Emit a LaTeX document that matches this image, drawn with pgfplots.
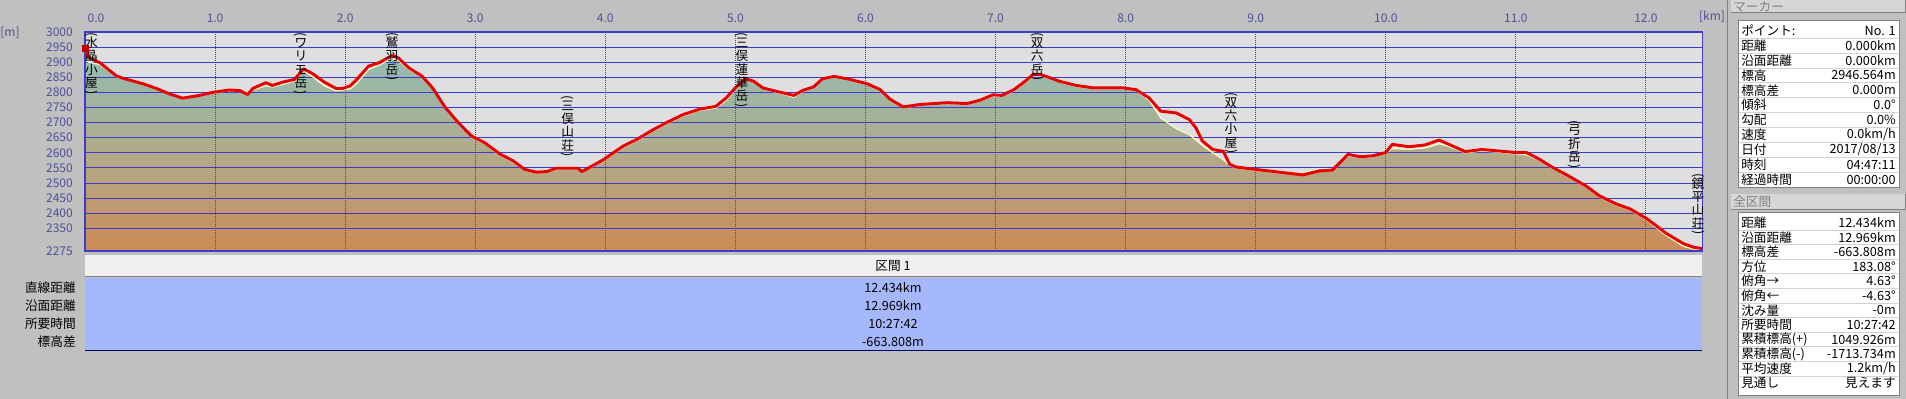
\documentclass[border=0pt]{standalone}
\usepackage{fontspec}
\setmainfont{Noto Sans CJK JP}
\usepackage{graphicx}
\usepackage{pgfplots}
\usepackage{pgfplotstable}
\pgfplotsset{compat=1.18}

\definecolor{bggray}{HTML}{C0C0C0}
\definecolor{plotbg}{HTML}{DFDFE1}
\definecolor{gridblue}{HTML}{3C3CC8}
\definecolor{vgrid}{HTML}{484878}
\definecolor{ticktxt}{HTML}{50509A}
\definecolor{stripbg}{HTML}{F0F0F0}
\definecolor{panelblue}{HTML}{A6B8FC}
\definecolor{trackred}{HTML}{E80000}
\definecolor{filltop}{HTML}{94BCB0}
\definecolor{fillmid}{HTML}{B2AA8A}
\definecolor{fillbot}{HTML}{CC8A56}
\definecolor{hdrgray}{HTML}{D6D6D6}
\definecolor{hdrtxt}{HTML}{808080}

\pgfplotstableread{
x y
0.000 2946.6
0.010 2930
0.030 2915
0.115 2898
0.24 2855
0.29 2847
0.45 2828
0.55 2813
0.65 2795
0.75 2781
0.88 2790
0.98 2800
1.11 2808
1.19 2806
1.25 2793
1.29 2813
1.39 2832
1.44 2823
1.52 2834
1.61 2843
1.68 2878
1.75 2862
1.84 2834
1.93 2813
1.98 2813
2.04 2822
2.09 2843
2.18 2887
2.26 2898
2.36 2922
2.41 2914
2.49 2881
2.59 2854
2.67 2816
2.77 2750
2.87 2700
2.97 2656
3.07 2634
3.19 2596
3.29 2574
3.38 2545
3.47 2536
3.55 2538
3.62 2549
3.73 2549
3.79 2549
3.82 2538
3.88 2552
3.98 2576
4.14 2623
4.24 2644
4.37 2677
4.47 2700
4.60 2727
4.73 2745
4.85 2754
4.93 2782
5.01 2820
5.08 2845
5.14 2837
5.21 2815
5.34 2801
5.45 2790
5.52 2807
5.60 2818
5.67 2845
5.76 2853
5.88 2843
6.01 2829
6.11 2810
6.19 2777
6.29 2752
6.42 2760
6.63 2766
6.78 2763
6.88 2774
6.98 2792
7.05 2790
7.14 2809
7.21 2831
7.29 2860
7.34 2860
7.42 2848
7.49 2837
7.62 2823
7.75 2815
7.88 2815
7.98 2815
8.08 2809
8.18 2782
8.27 2738
8.39 2732
8.49 2710
8.54 2683
8.59 2639
8.67 2611
8.75 2605
8.80 2562
8.85 2553
8.98 2546
9.16 2537
9.36 2527
9.49 2540
9.59 2543
9.71 2595
9.80 2587
9.90 2590
10.00 2601
10.05 2628
10.18 2620
10.30 2626
10.41 2642
10.48 2629
10.61 2604
10.74 2611
10.87 2606
11.00 2601
11.08 2601
11.18 2579
11.28 2552
11.39 2527
11.54 2490
11.64 2458
11.77 2431
11.88 2414
12.01 2381
12.16 2332
12.29 2299
12.37 2287
12.434 2283
}\track

\pgfplotstableread{
x y
0.000 2905
0.030 2900
0.115 2892
0.24 2852
0.29 2845
0.45 2826
0.55 2811
0.65 2793
0.75 2779
0.88 2788
0.98 2798
1.11 2805
1.19 2803
1.25 2800
1.29 2808
1.39 2822
1.44 2818
1.52 2826
1.61 2838
1.68 2872
1.75 2852
1.84 2822
1.93 2805
1.98 2808
2.04 2812
2.09 2830
2.18 2876
2.26 2890
2.36 2912
2.41 2906
2.49 2876
2.59 2850
2.67 2812
2.77 2746
2.87 2697
2.97 2652
3.07 2630
3.19 2592
3.29 2570
3.38 2542
3.47 2534
3.55 2536
3.62 2546
3.73 2546
3.79 2546
3.82 2540
3.88 2549
3.98 2572
4.14 2619
4.24 2640
4.37 2673
4.47 2696
4.60 2723
4.73 2741
4.85 2748
4.93 2774
5.01 2815
5.08 2842
5.14 2834
5.21 2812
5.34 2797
5.45 2784
5.52 2803
5.60 2815
5.67 2842
5.76 2850
5.88 2840
6.01 2826
6.11 2806
6.19 2773
6.29 2749
6.42 2757
6.63 2763
6.78 2760
6.88 2771
6.98 2788
7.05 2787
7.14 2805
7.21 2827
7.29 2855
7.34 2855
7.42 2845
7.49 2834
7.62 2820
7.75 2812
7.88 2812
7.98 2812
8.08 2806
8.18 2775
8.27 2715
8.39 2680
8.49 2660
8.59 2625
8.67 2600
8.75 2578
8.80 2558
8.85 2550
8.98 2543
9.16 2534
9.36 2533
9.49 2548
9.59 2545
9.71 2590
9.80 2584
9.90 2587
10.00 2598
10.05 2614
10.18 2612
10.30 2616
10.41 2630
10.48 2622
10.61 2600
10.74 2606
10.87 2602
11.00 2597
11.08 2594
11.18 2575
11.28 2548
11.39 2523
11.54 2486
11.64 2454
11.77 2427
11.88 2410
12.01 2376
12.16 2325
12.29 2290
12.37 2281
12.434 2280
}\terrain

\newcommand{\lp}{\rotatebox[origin=c]{-90}{(}}
\newcommand{\rp}{\rotatebox[origin=c]{-90}{)}}
\newcommand{\vfont}{\fontsize{9.5pt}{10pt}\selectfont}
\newcommand{\tfont}{\fontsize{9.5pt}{11pt}\selectfont}
\newcommand{\kfont}{\fontsize{9pt}{10pt}\selectfont}
\newcommand{\trow}[3]{%
  \node[anchor=west,inner sep=0pt,font=\tfont] at (1741,#1) {#2};
  \node[anchor=east,inner sep=0pt,font=\tfont] at (1896,#1) {#3};}
\tikzset{vlab/.style={anchor=north, align=center, inner sep=0pt, font=\vfont}}

\begin{document}
\begin{tikzpicture}
\useasboundingbox (0,0) rectangle (1429.5pt,299.25pt);
\fill[bggray] (0,0) rectangle (1429.5pt,299.25pt);
\begin{axis}[
  at={(63.75pt,111pt)}, anchor=south west,
  scale only axis, width=1213.05pt, height=164.25pt,
  xmin=0, xmax=12.434, ymin=2275, ymax=3000,
  clip=false,
  axis background/.style={fill=plotbg},
  axis line style={draw=gridblue, line width=1pt},
  xtick={0,1,2,3,4,5,6,7,8,9,10,11,12},
  xticklabels={{\makebox[0pt][l]{\hspace{2pt}0.0}},1.0,2.0,3.0,4.0,5.0,6.0,7.0,8.0,9.0,10.0,11.0,12.0},
  ytick={2275,2350,2400,2450,2500,2550,2600,2650,2700,2750,2800,2850,2900,2950,3000},
  yticklabels={2275,2350,2400,2450,2500,2550,2600,2650,2700,2750,2800,2850,2900,2950,3000},
  xticklabel pos=upper,
  major tick length=0pt,
  tick style={draw=none},
  xticklabel style={anchor=south, inner sep=0pt, yshift=7pt, font=\kfont, text=ticktxt},
  yticklabel style={anchor=east, inner sep=0pt, xshift=-9pt, font=\kfont, text=ticktxt},
]
\addplot[draw=none, top color=filltop, bottom color=fillbot, middle color=fillmid] table[x=x,y=y]{\terrain} \closedcycle;
\pgfplotsinvokeforeach{2350,2400,2450,2500,2550,2600,2650,2700,2750,2800,2850,2900,2950}{
  \draw[gridblue, line width=0.75pt] (axis cs:0,#1) -- (axis cs:12.434,#1);
}
\pgfplotsinvokeforeach{1,2,3,4,5,6,7,8,9,10,11,12}{
  \draw[vgrid, line width=0.75pt, dash pattern=on 0.75pt off 0.75pt] (axis cs:#1,2275) -- (axis cs:#1,3000);
}
\addplot[draw=white!80!yellow, line width=0.9pt] table[x=x,y=y]{\terrain};
\addplot[trackred, line width=2.2pt, line join=round] table[x=x,y=y]{\track};
\addplot[only marks, mark=square*, mark size=2.2pt, color=red!75!black] coordinates {(0,2946.6)};
\draw[gridblue, line width=1.5pt] (rel axis cs:0,1) -- (rel axis cs:1,1);
\draw[gridblue, line width=1pt] (rel axis cs:0,0) rectangle (rel axis cs:1,1);
% place-name labels (vertical text)
\node[vlab] at (axis cs:0.05,2998) {\lp\\[-3.5pt]水\\晶\\小\\屋\\[-3.5pt]\rp};
\node[vlab] at (axis cs:1.66,2998) {\lp\\[-3.5pt]ワ\\リ\\モ\\岳\\[-3.5pt]\rp};
\node[vlab] at (axis cs:2.36,2998) {\lp\\[-3.5pt]鷲\\羽\\岳\\[-3.5pt]\rp};
\node[vlab] at (axis cs:3.71,2791) {\lp\\[-3.5pt]三\\俣\\山\\荘\\[-3.5pt]\rp};
\node[vlab] at (axis cs:5.05,2998) {\lp\\[-3.5pt]三\\俣\\蓮\\華\\岳\\[-3.5pt]\rp};
\node[vlab] at (axis cs:7.32,2998) {\lp\\[-3.5pt]双\\六\\岳\\[-3.5pt]\rp};
\node[vlab] at (axis cs:8.81,2801) {\lp\\[-3.5pt]双\\六\\小\\屋\\[-3.5pt]\rp};
\node[vlab] at (axis cs:11.45,2709) {\lp\\[-3.5pt]弓\\折\\岳\\[-3.5pt]\rp};
\node[vlab] at (axis cs:12.40,2533) {\lp\\[-3.5pt]鏡\\平\\山\\荘\\[-3.5pt]\rp};
\end{axis}
\begin{scope}[shift={(0,299.25pt)}, x=0.75pt, y=-0.75pt]
  % unit labels
  \node[font=\kfont, text=ticktxt, inner sep=0pt] at (10,33) {[m]};
  \node[font=\kfont, text=ticktxt, inner sep=0pt] at (1712,17) {[km]};
  % section strip and summary panel
  \fill[stripbg] (85,255) rectangle (1702,277);
  \draw[gray, line width=0.75pt] (85,277) -- (1702,277);
  \fill[panelblue] (85,278) rectangle (1702,351);
  \draw[blue!40!black, line width=0.75pt] (85,351) -- (1702,351);
  \node[font=\tfont, inner sep=0pt] at (893,266) {区間 1};
  \foreach \yy/\lab/\val in {288/直線距離/12.434km, 306/沿面距離/12.969km, 324/所要時間/10:27:42, 342/標高差/-663.808m}{
    \node[font=\tfont, anchor=east, inner sep=0pt] at (76,\yy) {\lab};
    \node[font=\tfont, inner sep=0pt] at (893,\yy) {\val};
  }
  % right panel
  \draw[gray, line width=0.75pt] (1727,0) -- (1727,399);
  \fill[hdrgray] (1731,0) rectangle (1905,13);
  \draw[gray, line width=0.75pt] (1731,13) -- (1905,13) -- (1905,0);
  \node[anchor=west, text=hdrtxt, font=\tfont, inner sep=0pt] at (1733,6.5) {マーカー};
  \fill[white] (1738,21) rectangle (1899,188);
  \draw[gray, line width=0.75pt] (1738,21) rectangle (1899,188);
  \foreach \i in {0,...,9}{\draw[gray!35, line width=0.6pt] (1739,{38.15+14.9*\i}) -- (1898,{38.15+14.9*\i});}
  \trow{30.7}{ポイント:}{No. 1}
  \trow{45.6}{距離}{0.000km}
  \trow{60.5}{沿面距離}{0.000km}
  \trow{75.4}{標高}{2946.564m}
  \trow{90.3}{標高差}{0.000m}
  \trow{105.2}{傾斜}{0.0°}
  \trow{120.1}{勾配}{0.0\%}
  \trow{135.0}{速度}{0.0km/h}
  \trow{149.9}{日付}{2017/08/13}
  \trow{164.8}{時刻}{04:47:11}
  \trow{179.7}{経過時間}{00:00:00}
  \fill[hdrgray] (1731,194) rectangle (1905,210);
  \draw[gray, line width=0.75pt] (1731,210) -- (1905,210) -- (1905,194);
  \node[anchor=west, text=hdrtxt, font=\tfont, inner sep=0pt] at (1733,202) {全区間};
  \fill[white] (1738,213) rectangle (1899,396);
  \draw[gray, line width=0.75pt] (1738,213) rectangle (1899,396);
  \foreach \i in {0,...,10}{\draw[gray!35, line width=0.6pt] (1739,{230+14.6*\i}) -- (1898,{230+14.6*\i});}
  \trow{222.7}{距離}{12.434km}
  \trow{237.3}{沿面距離}{12.969km}
  \trow{251.9}{標高差}{-663.808m}
  \trow{266.5}{方位}{183.08°}
  \trow{281.1}{俯角→}{4.63°}
  \trow{295.7}{俯角←}{-4.63°}
  \trow{310.3}{沈み量}{-0m}
  \trow{324.9}{所要時間}{10:27:42}
  \trow{339.5}{累積標高(+)}{1049.926m}
  \trow{354.1}{累積標高(-)}{-1713.734m}
  \trow{368.7}{平均速度}{1.2km/h}
  \trow{383.3}{見通し}{見えます}
\end{scope}
\end{tikzpicture}
\end{document}
